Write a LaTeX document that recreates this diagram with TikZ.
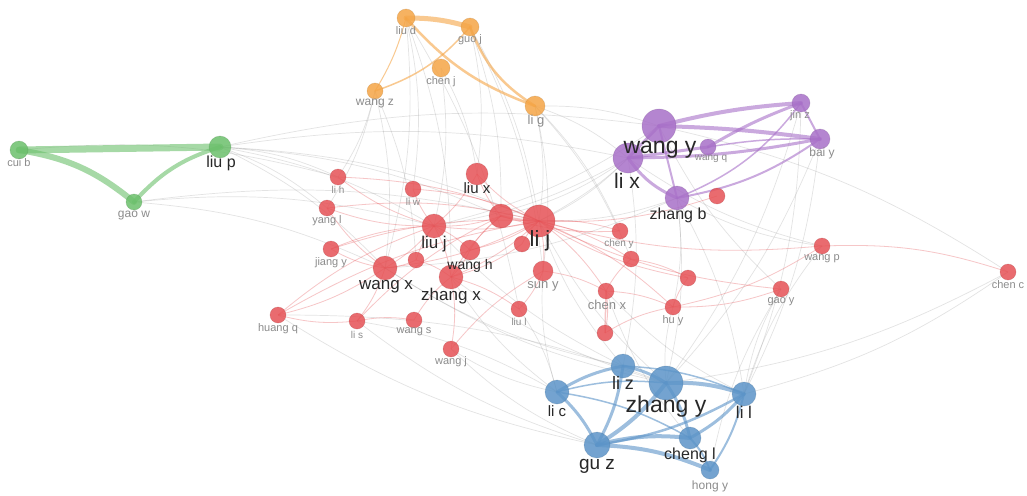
\documentclass[tikz,border=0pt]{standalone}
\usepackage{fontspec}
\setmainfont{Liberation Sans}
\usetikzlibrary{backgrounds}
\definecolor{vred}{RGB}{230,82,86}
\definecolor{vorange}{RGB}{245,165,70}
\definecolor{vpurple}{RGB}{168,112,200}
\definecolor{vgreen}{RGB}{108,192,108}
\definecolor{vblue}{RGB}{92,148,200}
\definecolor{lblgray}{RGB}{140,140,140}
\definecolor{lbldark}{RGB}{40,40,40}
\tikzset{
  vn/.style={circle, inner sep=0pt, fill opacity=0.85, draw opacity=0.25, line width=0.6pt},
  rn/.style={vn, fill=vred, draw=vred!70!black},
  on/.style={vn, fill=vorange, draw=vorange!70!black},
  pn/.style={vn, fill=vpurple, draw=vpurple!70!black},
  gn/.style={vn, fill=vgreen, draw=vgreen!70!black},
  bn/.style={vn, fill=vblue, draw=vblue!70!black},
  eg/.style={draw=gray, draw opacity=0.22, line width=0.7pt},
  er/.style={draw=vred, draw opacity=0.33, line width=0.8pt},
  ec/.style={draw=#1, draw opacity=0.6, line cap=round},
  lbl/.style={inner sep=0pt, text=lblgray},
}
\begin{document}
\begin{tikzpicture}[x=1pt,y=-1pt]
\useasboundingbox (0,0) rectangle (1027,495);
% nodes
\foreach \n/\x/\y/\r/\s in {
 liud/406/18/9/on, guoj/470/27/9/on, chenj/441/68/9/on, wangz/375/91/8/on, lig/535/106/10/on,
 wangy/659/126/17/pn, lix/628/158/15/pn, wangq/708/147/8/pn, jinz/801/103/9/pn, baiy/820/139/10/pn, zhangb/677/198/12/pn,
 cuib/19/150/9/gn, liup/220/147/11/gn, gaow/134/202/8/gn,
 lih/338/177/8/rn, liw/413/189/8/rn, liux/477/174/11/rn, yangl/327/208/8/rn, liuj/434/226/12/rn,
 rA/501/216/12/rn, lij/539/221/16/rn, jiangy/331/249/8/rn, wangh/470/250/10/rn, rB/416/260/8/rn,
 rC/522/244/8/rn, wangx/385/268/12/rn, zhangx/451/277/12/rn, suny/543/271/10/rn, cheny/620/231/8/rn,
 rD/631/259/8/rn, rE/717/196/8/rn, rF/688/278/8/rn, chenx/606/291/8/rn, huy/673/307/8/rn,
 liul/519/309/8/rn, rG/605/333/8/rn, wangp/822/246/8/rn, gaoy/781/289/8/rn, chenc/1008/272/8/rn,
 huangq/278/315/8/rn, lis/357/321/8/rn, wangs/414/320/8/rn, wangj/451/349/8/rn,
 liz/623/366/12/bn, zhangy/666/383/17/bn, lic/557/392/12/bn, lil/744/394/12/bn, guz/597/445/13/bn,
 chengl/690/438/11/bn, hongy/710/470/9/bn}
 {\node[\s, minimum size=2*\r] (\n) at (\x,\y) {};}
% edges
\begin{scope}[on background layer]
\fill[white] (0,0) rectangle (1027,495);
% gray inter-cluster edges
\foreach \a/\b in {liup/lij, liup/liuj, liup/wangy, liup/lih, liup/lix, liup/rA, gaow/liuj, gaow/wangx, gaow/lij,
 liud/wangx, liud/zhangx, liud/liul, liud/liw, guoj/liux, guoj/suny, guoj/lij, guoj/rA, wangz/yangl, wangz/lih, wangz/wangx, wangz/rB,
 chenj/liux, chenj/liuj, lig/lij, lig/wangy, lig/cheny, lig/suny, lig/lix, wangy/lij, wangy/liuj, lix/lij, lix/rA, zhangb/lij,
 zhangb/wangx, wangy/chenc, chenc/lil, chenc/zhangy, baiy/lil, jinz/zhangy, zhangy/lij, zhangy/zhangx, zhangy/wangx,
 liz/lij, liz/liuj, lic/wangj, lic/suny, guz/wangj, guz/lis, guz/huangq, lil/gaoy, lil/wangp, lil/chenx, zhangy/huy,
 hongy/gaoy, chengl/chenx, liz/wangx, lic/zhangx, zhangb/zhangy, zhangb/lil, lix/liz, wangp/zhangb, wangp/lix,
 gaoy/wangy, huangq/zhangy, lis/lic, liul/lic, lig/rD, jinz/lil, baiy/zhangy, zhangb/huy, lix/liuj, cuib/lih, liup/wangx, liup/yangl}
 {\draw[eg] (\a.center) to[bend left=10] (\b.center);}
% red edges
\foreach \a/\b in {lij/liuj, rA/liuj, lij/wangh, lij/wangx, lij/zhangx, liuj/wangx, liuj/wangh, liuj/zhangx,
 liuj/lih, liuj/liw, liuj/yangl, lij/liux, rA/liux, lij/suny, lij/cheny, lij/rD, lij/huy, lij/chenx, suny/chenx, suny/liul,
 chenx/huy, chenx/rG, huy/rF, rF/lij, zhangx/wangj, zhangx/liul, wangx/lis, wangx/huangq, wangx/jiangy, wangx/yangl,
 lis/huangq, lis/wangs, huangq/liuj, wangs/zhangx, wangj/suny, wangp/chenc, wangp/lij, gaoy/huy, gaoy/lij, wangp/huy,
 rC/lij, rB/wangx, rB/liuj, rB/zhangx, jiangy/liuj, yangl/lij, lih/lij, liw/lij, liux/liuj, wangh/zhangx, wangh/rA,
 zhangx/rA, chenx/rD, rG/huy, huangq/lij, lis/rA, jiangy/lij, rC/zhangx, cheny/rA, rD/rF, rE/lij}
 {\draw[er] (\a.center) to[bend left=10] (\b.center);}
\draw[er, line width=2pt] (lij.center) to[bend left=5] (rA.center);
\draw[er, line width=1.5pt] (chenx.center) -- (rG.center);
% orange
\draw[ec=vorange, line width=5pt] (liud.center) to[bend left=8] (guoj.center);
\draw[ec=vorange, line width=2.5pt] (liud.center) to[bend right=14] (lig.center);
\draw[ec=vorange, line width=2.5pt] (guoj.center) to[bend right=18] (lig.center);
\draw[ec=vorange, line width=1pt] (wangz.center) to[bend right=8] (liud.center);
\draw[ec=vorange, line width=1.5pt] (wangz.center) to[bend right=15] (guoj.center);
% purple
\draw[ec=vpurple, line width=4pt] (wangy.center) to[bend left=5] (jinz.center);
\draw[ec=vpurple, line width=4pt] (wangy.center) to[bend left=3] (baiy.center);
\draw[ec=vpurple, line width=3pt] (lix.center) to[bend right=5] (baiy.center);
\draw[ec=vpurple, line width=3pt] (lix.center) -- (wangq.center);
\draw[ec=vpurple, line width=3pt] (wangq.center) to[bend left=5] (jinz.center);
\draw[ec=vpurple, line width=2pt] (jinz.center) -- (baiy.center);
\draw[ec=vpurple, line width=3pt] (wangy.center) -- (lix.center);
\draw[ec=vpurple, line width=2pt] (wangy.center) -- (zhangb.center);
\draw[ec=vpurple, line width=3pt] (lix.center) to[bend right=15] (zhangb.center);
\draw[ec=vpurple, line width=2pt] (zhangb.center) to[bend right=12] (baiy.center);
\draw[ec=vpurple, line width=1.5pt] (zhangb.center) to[bend right=15] (jinz.center);
\draw[ec=vpurple, line width=1.5pt] (wangq.center) to[bend left=5] (baiy.center);
% green
\draw[ec=vgreen, line width=7pt] (cuib.center) -- (liup.center);
\draw[ec=vgreen, line width=6pt] (cuib.center) to[bend left=15] (gaow.center);
\draw[ec=vgreen, line width=4pt] (gaow.center) to[bend left=15] (liup.center);
% blue
\foreach \a/\b/\w in {lic/liz/3, lic/guz/3, liz/guz/3, liz/zhangy/3, zhangy/guz/4, zhangy/lil/4, zhangy/chengl/3,
 lil/chengl/3, lil/guz/2.5, lil/hongy/2, guz/chengl/4, guz/hongy/4, chengl/hongy/2, lic/zhangy/1.5, lic/chengl/1.5, liz/lil/1.5}
 {\draw[ec=vblue, line width=\w pt] (\a.center) to[bend left=10] (\b.center);}
\end{scope}
% labels
\foreach \n/\t/\x/\y/\f/\c in {
 liud/liu d/406/31/11/lblgray, guoj/guo j/470/40/11/lblgray, chenj/chen j/441/82/11/lblgray, wangz/wang z/375/104/12/lblgray,
 lig/li g/536/121/13/lblgray, wangy/wang y/660/150/23/lbldark, lix/li x/627/181/21/lbldark, wangq/wang q/711/159/10/lblgray,
 jinz/jin z/800/116/11/lblgray, baiy/bai y/822/153/12/lblgray, zhangb/zhang b/678/215/16/lbldark,
 cuib/cui b/19/163/11/lblgray, liup/liu p/221/163/16/lbldark, gaow/gao w/134/216/12/lblgray,
 lih/li h/338/190/10/lblgray, liw/li w/413/202/10/lblgray, liux/liu x/477/188/15/lbldark, yangl/yang l/327/221/11/lblgray,
 liuj/liu j/434/244/17/lbldark, lij/li j/540/241/22/lbldark, jiangy/jiang y/331/263/11/lblgray, wangh/wang h/470/266/14/lbldark,
 wangx/wang x/386/287/17/lbldark, zhangx/zhang x/451/296/17/lbldark, suny/sun y/543/286/13/lblgray, cheny/chen y/619/244/10/lblgray,
 chenx/chen x/607/305/13/lblgray, huy/hu y/673/321/11/lblgray, liul/liu l/519/322/10/lblgray, wangp/wang p/822/259/11/lblgray,
 gaoy/gao y/781/302/11/lblgray, chenc/chen c/1008/285/11/lblgray, huangq/huang q/278/329/11/lblgray, lis/li s/357/335/10/lblgray,
 wangs/wang s/414/332/11/lblgray, wangj/wang j/451/362/11/lblgray, liz/li z/623/383/18/lbldark, zhangy/zhang y/666/407/23/lbldark,
 lic/li c/557/411/15/lbldark, lil/li l/744/412/17/lbldark, guz/gu z/597/466/19/lbldark, chengl/cheng l/690/455/16/lbldark,
 hongy/hong y/710/486/12/lblgray}
 {\node[lbl, text=\c, font=\fontsize{\f}{\f}\selectfont] (t-\n) at (\x,\y) {\t};}
\end{tikzpicture}
\end{document}
